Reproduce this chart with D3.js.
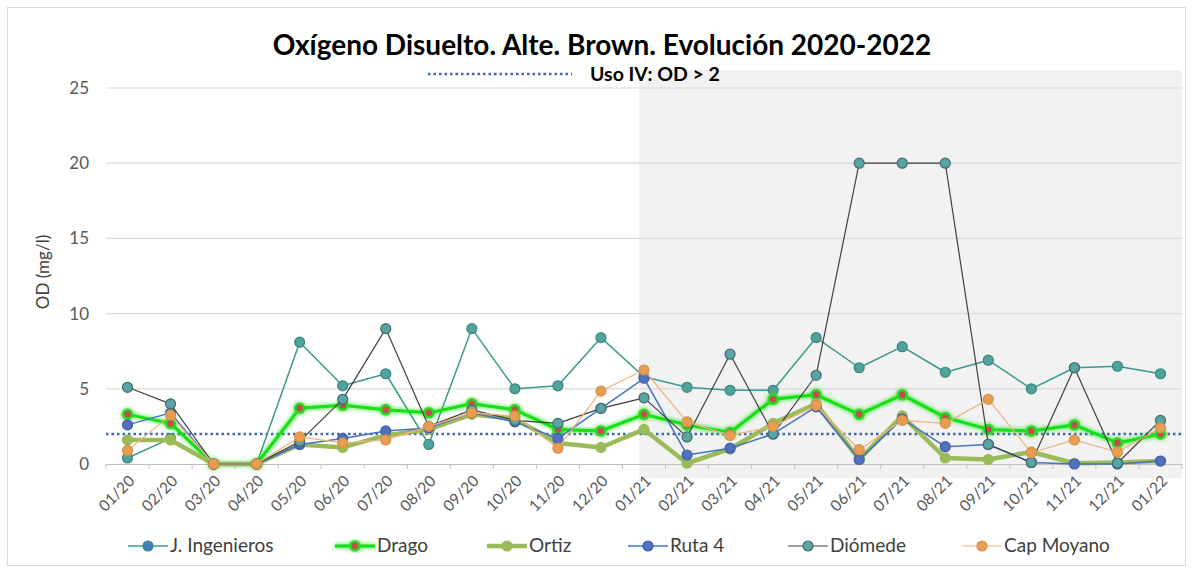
<!DOCTYPE html>
<html>
<head>
<meta charset="utf-8">
<script src="https://cdn.jsdelivr.net/npm/d3@7"></script>
<style>
  html, body { margin: 0; padding: 0; background: #fff; }
  svg { display: block; font-family: Lato, "Open Sans", sans-serif; }
</style>
</head>
<body>
<svg id="chart" width="1193" height="572"></svg>
<script>
// Months sampled (MM/YY)
const months = ["01/20","02/20","03/20","04/20","05/20","06/20","07/20","08/20","09/20","10/20","11/20","12/20",
                "01/21","02/21","03/21","04/21","05/21","06/21","07/21","08/21","09/21","10/21","11/21","12/21","01/22"];

// Dissolved oxygen (mg/l) per sampling station
const jIngenieros = [0.4,1.7,0,0,8.1,5.2,6.0,1.3,9.0,5.0,5.2,8.4,5.8,5.1,4.9,4.9,8.4,6.4,7.8,6.1,6.9,5.0,6.4,6.5,6.0];
const drago       = [3.3,2.7,0,0,3.7,3.9,3.6,3.4,4.0,3.6,2.3,2.2,3.3,2.6,2.1,4.3,4.6,3.3,4.6,3.1,2.3,2.2,2.6,1.4,2.0];
const ortiz       = [1.6,1.6,0,0,1.3,1.1,1.9,2.3,3.3,3.0,1.4,1.1,2.3,0.05,1.0,2.7,4.0,0.3,3.2,0.4,0.3,0.8,0.05,0.1,0.2];
const ruta4       = [2.6,3.4,0,0,1.3,1.7,2.2,2.4,3.4,2.8,1.7,3.7,5.7,0.6,1.05,2.0,3.8,0.3,3.0,1.15,1.3,0.1,0,0,0.2];
const diomede     = [5.1,4.0,0,0,1.5,4.3,9.0,2.5,3.6,2.9,2.7,3.7,4.4,1.8,7.3,2.0,5.9,20,20,20,1.3,0.1,6.4,0.05,2.9];
const capMoyano   = [0.9,3.25,0,0,1.8,1.4,1.6,2.5,3.4,3.2,1.05,4.85,6.25,2.8,1.9,2.5,3.9,0.95,2.9,2.7,4.3,0.75,1.6,0.8,2.4];

// Reference threshold (Uso IV) and y axis ticks
const threshold = 2;
const yTicks = [0, 5, 10, 15, 20, 25];
const shadeFrom = "01/21";

const titleText = "Oxígeno Disuelto. Alte. Brown. Evolución 2020-2022";
const thresholdLabel = "Uso IV: OD > 2";
const yTitle = "OD (mg/l)";

const series = [
  { name: "J. Ingenieros", values: jIngenieros, line: "#3a9a8c", lw: 1.5, fill: "#4fa39b", stroke: "#3b8580", legendFill: "#3f7fbf" },
  { name: "Drago",         values: drago,       line: "#12e012", lw: 3,   fill: "#c0504d", stroke: "#22dd22", glow: true },
  { name: "Ortiz",         values: ortiz,       line: "#9bbb59", lw: 4.5, fill: "#9bbb59", stroke: "#9bbb59" },
  { name: "Ruta 4",        values: ruta4,       line: "#4472c4", lw: 1.5, fill: "#5070c0", stroke: "#3f5fa8" },
  { name: "Diómede",       values: diomede,     line: "#404040", lw: 1.2, fill: "#5aa5a3", stroke: "#3d6b70" },
  { name: "Cap Moyano",    values: capMoyano,   line: "#f2b07e", lw: 1.2, fill: "#e89e52", stroke: "#d89048" }
];

const svg = d3.select("#chart");
const W = 1193, H = 572;
const plot = { left: 106, right: 1182, top: 88, bottom: 464 };

// Outer frame
svg.append("rect").attr("x", 7.5).attr("y", 7.5).attr("width", W - 15).attr("height", H - 14)
  .attr("fill", "#fff").attr("stroke", "#d9d9d9");

const x = d3.scaleBand().domain(months).range([plot.left, plot.right]).padding(0);
const cx = m => x(m) + x.bandwidth() / 2;
const y = d3.scaleLinear().domain([0, 25]).range([plot.bottom, plot.top]);

// Soft glow for the Drago series
const defs = svg.append("defs");
const f = defs.append("filter").attr("id", "glow").attr("x", "-20%").attr("y", "-20%").attr("width", "140%").attr("height", "140%");
f.append("feGaussianBlur").attr("in", "SourceGraphic").attr("stdDeviation", 2).attr("result", "b");
const fm = f.append("feMerge");
fm.append("feMergeNode").attr("in", "b");
fm.append("feMergeNode").attr("in", "SourceGraphic");

// Shaded 2021 period
svg.append("rect")
  .attr("x", cx(shadeFrom) - 5).attr("y", 70)
  .attr("width", plot.right - (cx(shadeFrom) - 5)).attr("height", 478 - 70)
  .attr("fill", "#f2f2f2");

// Gridlines
svg.append("g").selectAll("line").data(yTicks.filter(d => d > 0)).join("line")
  .attr("x1", plot.left).attr("x2", plot.right)
  .attr("y1", d => y(d)).attr("y2", d => y(d))
  .attr("stroke", "#d9d9d9").attr("stroke-width", 1.2);

// Y axis labels
const yAxis = d3.axisLeft(y).tickValues(yTicks).tickSize(0).tickPadding(17);
const gy = svg.append("g").attr("transform", `translate(${plot.left},0)`).call(yAxis);
gy.select(".domain").remove();
gy.selectAll("text").attr("fill", "#595959").style("font-size", "17px").style("font-family", "Lato, sans-serif");

// X axis
const xAxis = d3.axisBottom(x).tickSize(0).tickFormat("");
const gx = svg.append("g").attr("transform", `translate(0,${plot.bottom})`).call(xAxis);
gx.select(".domain").attr("stroke", "#bfbfbf").attr("stroke-width", 1.2);
gx.selectAll(".tick").remove();
// tick marks on category boundaries
const bounds = months.map(m => x(m)).concat([plot.right]);
svg.append("g").selectAll("line").data(bounds).join("line")
  .attr("x1", d => d).attr("x2", d => d)
  .attr("y1", plot.bottom).attr("y2", plot.bottom + 5)
  .attr("stroke", "#bfbfbf");
// rotated month labels
svg.append("g").selectAll("text").data(months).join("text")
  .attr("transform", d => `translate(${cx(d) + 8},${plot.bottom + 18}) rotate(-45)`)
  .attr("text-anchor", "end")
  .attr("fill", "#595959").style("font-size", "15.5px")
  .text(d => d);

// Y axis title
svg.append("text")
  .attr("transform", `translate(49,${(plot.top + plot.bottom) / 2 - 4}) rotate(-90)`)
  .attr("text-anchor", "middle").attr("fill", "#404040").style("font-size", "17px")
  .text(yTitle);

// Threshold line
svg.append("line")
  .attr("x1", plot.left).attr("x2", plot.right)
  .attr("y1", y(threshold)).attr("y2", y(threshold))
  .attr("stroke", "#4464b4").attr("stroke-width", 2.5).attr("stroke-dasharray", "2.5 3");

// Series lines and markers
const line = d3.line().x((d, i) => cx(months[i])).y(d => y(d));
series.forEach(s => {
  const g = svg.append("g");
  if (s.glow) g.attr("filter", "url(#glow)");
  g.append("path").attr("d", line(s.values)).attr("fill", "none")
    .attr("stroke", s.line).attr("stroke-width", s.lw).attr("stroke-linejoin", "round");
  g.selectAll("circle").data(s.values).join("circle")
    .attr("cx", (d, i) => cx(months[i])).attr("cy", d => y(d))
    .attr("r", s.glow ? 4.5 : 5)
    .attr("fill", s.fill).attr("stroke", s.stroke).attr("stroke-width", s.glow ? 2.5 : 1.2);
});

// Title
svg.append("text").attr("x", 602).attr("y", 55).attr("text-anchor", "middle")
  .attr("fill", "#000").style("font-size", "28px").style("font-weight", "bold")
  .text(titleText);

// Threshold legend
svg.append("line").attr("x1", 428).attr("x2", 572).attr("y1", 74).attr("y2", 74)
  .attr("stroke", "#4464b4").attr("stroke-width", 2.5).attr("stroke-dasharray", "2.5 3");
svg.append("text").attr("x", 590).attr("y", 81).attr("fill", "#000")
  .style("font-size", "19.5px").style("font-weight", "bold").text(thresholdLabel);

// Bottom legend
const legendX = [148, 355, 507, 648, 808, 982];
const lg = svg.append("g");
series.forEach((s, i) => {
  const mx = legendX[i], ly = 546;
  const g = lg.append("g");
  if (s.glow) g.attr("filter", "url(#glow)");
  g.append("line").attr("x1", mx - 20).attr("x2", mx + 20).attr("y1", ly).attr("y2", ly)
    .attr("stroke", s.line).attr("stroke-width", s.lw);
  g.append("circle").attr("cx", mx).attr("cy", ly).attr("r", s.glow ? 4.5 : 5)
    .attr("fill", s.legendFill || s.fill).attr("stroke", s.stroke).attr("stroke-width", s.glow ? 2.5 : 1.2);
  lg.append("text").attr("x", mx + 22).attr("y", ly + 6).attr("fill", "#404040")
    .style("font-size", "19px").text(s.name);
});
</script>
</body>
</html>
